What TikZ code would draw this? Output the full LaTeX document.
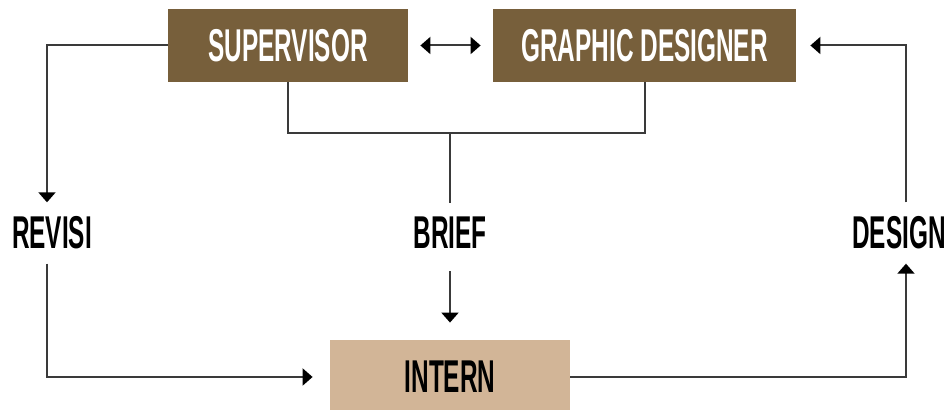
\documentclass[tikz,border=0pt]{standalone}
\usepackage{fontspec}
\newfontfamily\condfont{Liberation Sans}[FakeStretch=0.53]
\usepackage{tikz}
\usetikzlibrary{calc,arrows.meta,positioning}
\definecolor{darkbrown}{HTML}{775F3B}
\definecolor{lightbrown}{HTML}{D2B597}
\definecolor{linegrey}{HTML}{3A3A3A}

\begin{document}
\begin{tikzpicture}[x=0.5pt,y=-0.5pt,font={\condfont\bfseries\fontsize{23pt}{23pt}\selectfont}]

\tikzset{darkbox/.style={fill=darkbrown,text=white,minimum height=36.5pt,inner sep=0pt},
lightbox/.style={fill=lightbrown,text=black,minimum width=120pt,minimum height=37pt,inner sep=0pt},
flowlabel/.style={inner xsep=0pt,inner ysep=7pt},
flowline/.style={linegrey,line width=1pt},
tip/.tip={Triangle[width=8.5pt,length=5pt,color=black]},
flowarrow/.style={flowline,-tip}}

\useasboundingbox (0,0) rectangle (950,410);

% Roles
\node[darkbox,minimum width=120pt] (sup) at (288,45.5) {SUPERVISOR};
\node[darkbox,minimum width=151.5pt] (gd) at (644.5,45.5) {GRAPHIC DESIGNER};
\node[lightbox] (intern) at (450,377) {INTERN};

% Labels
\node[flowlabel] (revisi) at (52,233) {REVISI};
\node[flowlabel] (brief) at (450,233) {BRIEF};
\node[flowlabel] (design) at (899,233) {DESIGN};

% Brief from both roles
\coordinate (join) at (450,133);
\draw[flowline] (sup.south) |- (join) -| (gd.south);
\draw[flowline] (join) -- (brief.north);
\draw[flowarrow,shorten <=4pt,shorten >=8.5pt] (brief) -- (intern);

% Supervisor and designer
\draw[flowline,tip-tip,shorten <=6pt,shorten >=6pt] (sup) -- (gd);

% Revision loop
\draw[flowarrow] (sup.west) -| ($(revisi.north)+(-5,0)$);
\draw[flowarrow,shorten >=8.5pt] ($(revisi.south)+(-5,0)$) |- (intern.west);

% Design loop
\draw[flowarrow] (intern.east) -| ($(design.south)+(7,0)$);
\draw[flowarrow,shorten >=7pt] ($(design.north)+(7,0)$) |- (gd.east);

\end{tikzpicture}
\end{document}
